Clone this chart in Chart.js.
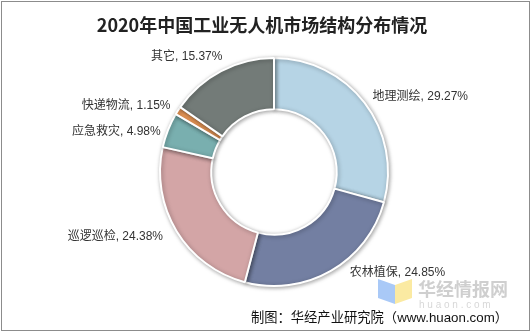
<!DOCTYPE html>
<html lang="zh">
  <head>
    <meta charset="UTF-8" />
    <script src="https://cdn.jsdelivr.net/npm/chart.js@4.4.1/dist/chart.umd.min.js"></script>
    <title>2020年中国工业无人机市场结构分布情况</title>
    <style>
      body {
        margin: 0;
        padding: 0;
        background: #fff;
      }
      .box {
        position: relative;
        width: 532px;
        height: 334px;
      }
    </style>
  </head>
  <body>
    <div class="box">
      <canvas id="drones"></canvas>
    </div>
    <script>
      const categories = ['地理测绘', '农林植保', '巡逻巡检', '应急救灾', '快递物流', '其它']
      const shares = [29.27, 24.85, 24.38, 4.98, 1.15, 15.37]
      const colors = ['#b6d4e5', '#737fa2', '#d3a5a6', '#79afaf', '#ef9c5a', '#737b78']

      // small hand nudges so labels sit where the original put them
      const labelNudge = [[0, 0], [14, -7], [-5, 0], [2, 5], [1, 0], [6, -5]]

      const CJK = '"Noto Sans CJK SC", "Noto Sans", sans-serif'
      const MIXED = '"Liberation Sans", "Noto Sans CJK SC", sans-serif'

      // outside labels, placed from each arc's middle angle
      const sliceLabels = {
        id: 'sliceLabels',
        afterDatasetsDraw(chart) {
          const ctx = chart.ctx
          const arcs = chart.getDatasetMeta(0).data
          ctx.save()
          ctx.font = '12px ' + MIXED
          ctx.fillStyle = '#333'
          ctx.textBaseline = 'middle'
          arcs.forEach((arc, i) => {
            const mid = (arc.startAngle + arc.endAngle) / 2
            const r = arc.outerRadius + 10
            const x = arc.x + Math.cos(mid) * r + labelNudge[i][0]
            const y = arc.y + Math.sin(mid) * r + labelNudge[i][1]
            ctx.textAlign = Math.cos(mid) >= 0 ? 'left' : 'right'
            ctx.fillText(categories[i] + ', ' + shares[i].toFixed(2) + '%', x, y)
          })
          ctx.restore()
        },
      }

      const decor = {
        id: 'decor',
        beforeDatasetsDraw(chart) {
          const ctx = chart.ctx
          ctx.save()
          ctx.shadowColor = 'rgba(0,0,0,0.35)'
          ctx.shadowBlur = 4
          ctx.shadowOffsetX = 1
          ctx.shadowOffsetY = 1
        },
        afterDatasetsDraw(chart) {
          chart.ctx.restore()
        },
        afterDraw(chart) {
          const ctx = chart.ctx
          ctx.save()
          // frame
          ctx.strokeStyle = '#8c8c8c'
          ctx.lineWidth = 1
          ctx.strokeRect(1.5, 1.5, 528, 329)
          // title
          ctx.fillStyle = '#222'
          ctx.font = 'bold 18px ' + CJK
          ctx.textAlign = 'center'
          ctx.textBaseline = 'middle'
          ctx.fillText('2020年中国工业无人机市场结构分布情况', 262, 25)
          // watermark logo
          ctx.fillStyle = '#a9c9f7'
          ctx.beginPath()
          ctx.moveTo(378, 279)
          ctx.lineTo(395, 285)
          ctx.lineTo(395, 304)
          ctx.lineTo(378, 298)
          ctx.fill()
          ctx.fillStyle = '#fbeaa2'
          ctx.beginPath()
          ctx.moveTo(395, 285)
          ctx.lineTo(412, 279)
          ctx.lineTo(412, 298)
          ctx.lineTo(395, 304)
          ctx.fill()
          ctx.fillStyle = '#cfcfcf'
          ctx.font = 'bold 18px ' + CJK
          ctx.textAlign = 'left'
          ctx.fillText('华经情报网', 418, 289)
          ctx.font = '10px ' + MIXED
          ctx.fillStyle = '#d8d8d8'
          ctx.fillText('h u a o n . c o m', 419, 305)
          // source
          ctx.fillStyle = '#111'
          ctx.font = '13.3px ' + MIXED
          ctx.textAlign = 'right'
          ctx.fillText('制图：华经产业研究院（www.huaon.com）', 508, 318)
          ctx.restore()
        },
      }

      new Chart(document.getElementById('drones'), {
        type: 'doughnut',
        data: {
          labels: categories,
          datasets: [
            {
              data: shares,
              backgroundColor: colors,
              borderColor: '#ffffff',
              borderWidth: 2,
              hoverOffset: 0,
            },
          ],
        },
        options: {
          responsive: true,
          maintainAspectRatio: false,
          animation: false,
          cutout: '55%',
          layout: {
            padding: { top: 57, bottom: 47, left: 159, right: 143 },
          },
          plugins: {
            legend: { display: false },
            title: { display: false },
            tooltip: { enabled: false },
          },
        },
        plugins: [decor, sliceLabels],
      })
    </script>
  </body>
</html>
